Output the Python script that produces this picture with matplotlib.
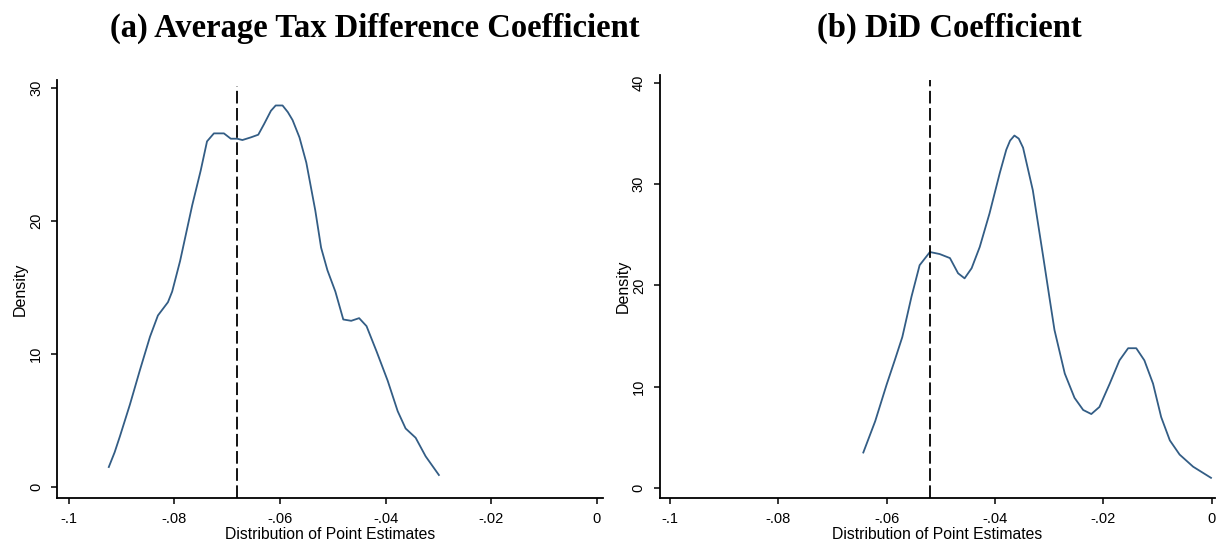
import numpy as np
import matplotlib.pyplot as plt

# panel (a): average tax difference coefficient
a_x = [-0.0924, -0.0913, -0.0903, -0.0884, -0.0865, -0.0846, -0.0831, -0.0812,
       -0.0804, -0.0789, -0.0766, -0.0750, -0.0738, -0.0725, -0.0706, -0.0693,
       -0.0681, -0.0671, -0.0655, -0.0641, -0.0630, -0.0617, -0.0608, -0.0595,
       -0.0585, -0.0576, -0.0563, -0.0550, -0.0533, -0.0522, -0.0510, -0.0495,
       -0.0480, -0.0465, -0.0450, -0.0436, -0.0417, -0.0396, -0.0377, -0.0362,
       -0.0343, -0.0324, -0.0299]
a_y = [1.5, 2.6, 3.8, 6.2, 8.8, 11.3, 12.9, 13.9,
       14.7, 17.0, 21.2, 23.8, 26.0, 26.6, 26.6, 26.2,
       26.2, 26.1, 26.3, 26.5, 27.3, 28.3, 28.7, 28.7,
       28.2, 27.6, 26.3, 24.4, 20.8, 18.0, 16.3, 14.7,
       12.6, 12.5, 12.7, 12.1, 10.2, 8.0, 5.7, 4.4,
       3.7, 2.3, 0.9]
a_line = -0.0682

# panel (b): DiD coefficient
b_x = [-0.0643, -0.0621, -0.0600, -0.0585, -0.0571, -0.0554, -0.0539, -0.0520,
       -0.0502, -0.0483, -0.0468, -0.0456, -0.0443, -0.0428, -0.0410, -0.0391,
       -0.0379, -0.0372, -0.0364, -0.0356, -0.0348, -0.0330, -0.0311, -0.0299,
       -0.0290, -0.0271, -0.0253, -0.0237, -0.0222, -0.0207, -0.0188, -0.0170,
       -0.0154, -0.0139, -0.0124, -0.0108, -0.0093, -0.0077, -0.0059, -0.0034,
       -0.0001]
b_y = [3.5, 6.6, 10.2, 12.6, 14.9, 18.9, 22.0, 23.3,
       23.1, 22.7, 21.2, 20.7, 21.7, 23.8, 27.1, 31.1,
       33.4, 34.3, 34.8, 34.5, 33.6, 29.4, 22.9, 18.7,
       15.6, 11.3, 8.9, 7.7, 7.3, 8.0, 10.3, 12.6,
       13.8, 13.8, 12.6, 10.3, 7.0, 4.7, 3.3, 2.1,
       1.0]
b_line = -0.0520

x_ticks = [-0.1, -0.08, -0.06, -0.04, -0.02, 0]
x_labels = ['-.1', '-.08', '-.06', '-.04', '-.02', '0']

plt.rcParams['font.family'] = ['Liberation Sans', 'DejaVu Sans']

fig = plt.figure(figsize=(12.16, 5.42), dpi=100)
ax1 = fig.add_axes([0.0469, 0.0812, 0.4491, 0.7708])
ax2 = fig.add_axes([0.5425, 0.0812, 0.4565, 0.7808])

def panel(ax, x, y, vline, ylim, yticks, dash_top):
    ax.plot(x, y, color='#335d85', lw=1.3)
    ax.vlines(vline, ylim[0], dash_top, colors='black', linestyles=(0, (7, 2.5)), lw=1.3)
    ax.set_xlim(-0.1022, 0.0012)
    ax.set_ylim(*ylim)
    ax.set_xticks(x_ticks)
    ax.set_xticklabels(x_labels)
    ax.set_yticks(yticks)
    ax.set_yticklabels([str(t) for t in yticks], rotation=90, va='center')
    for s in ['top', 'right']:
        ax.spines[s].set_visible(False)
    for s in ['left', 'bottom']:
        ax.spines[s].set_linewidth(1.3)
    ax.tick_params(direction='out', length=4, width=1.1, labelsize=10.5, pad=6)
    ax.set_xlabel('Distribution of Point Estimates', fontsize=11.3, labelpad=0.5)
    ax.set_ylabel('Density', fontsize=11.5, labelpad=1)

panel(ax1, a_x, a_y, a_line, (-0.83, 30.6), [0, 10, 20, 30], 30.2)
panel(ax2, b_x, b_y, b_line, (-0.99, 40.8), [0, 10, 20, 30, 40], 40.3)
ax2.set_xlim(-0.1019, 0.0006)

fig.text(0.308, 0.948, '(a) Average Tax Difference Coefficient', ha='center', va='center',
         family='Liberation Serif', fontweight='bold', fontsize=23.5)
fig.text(0.781, 0.948, '(b) DiD Coefficient', ha='center', va='center',
         family='Liberation Serif', fontweight='bold', fontsize=23.5)

fig.savefig('out.png', dpi=100)
